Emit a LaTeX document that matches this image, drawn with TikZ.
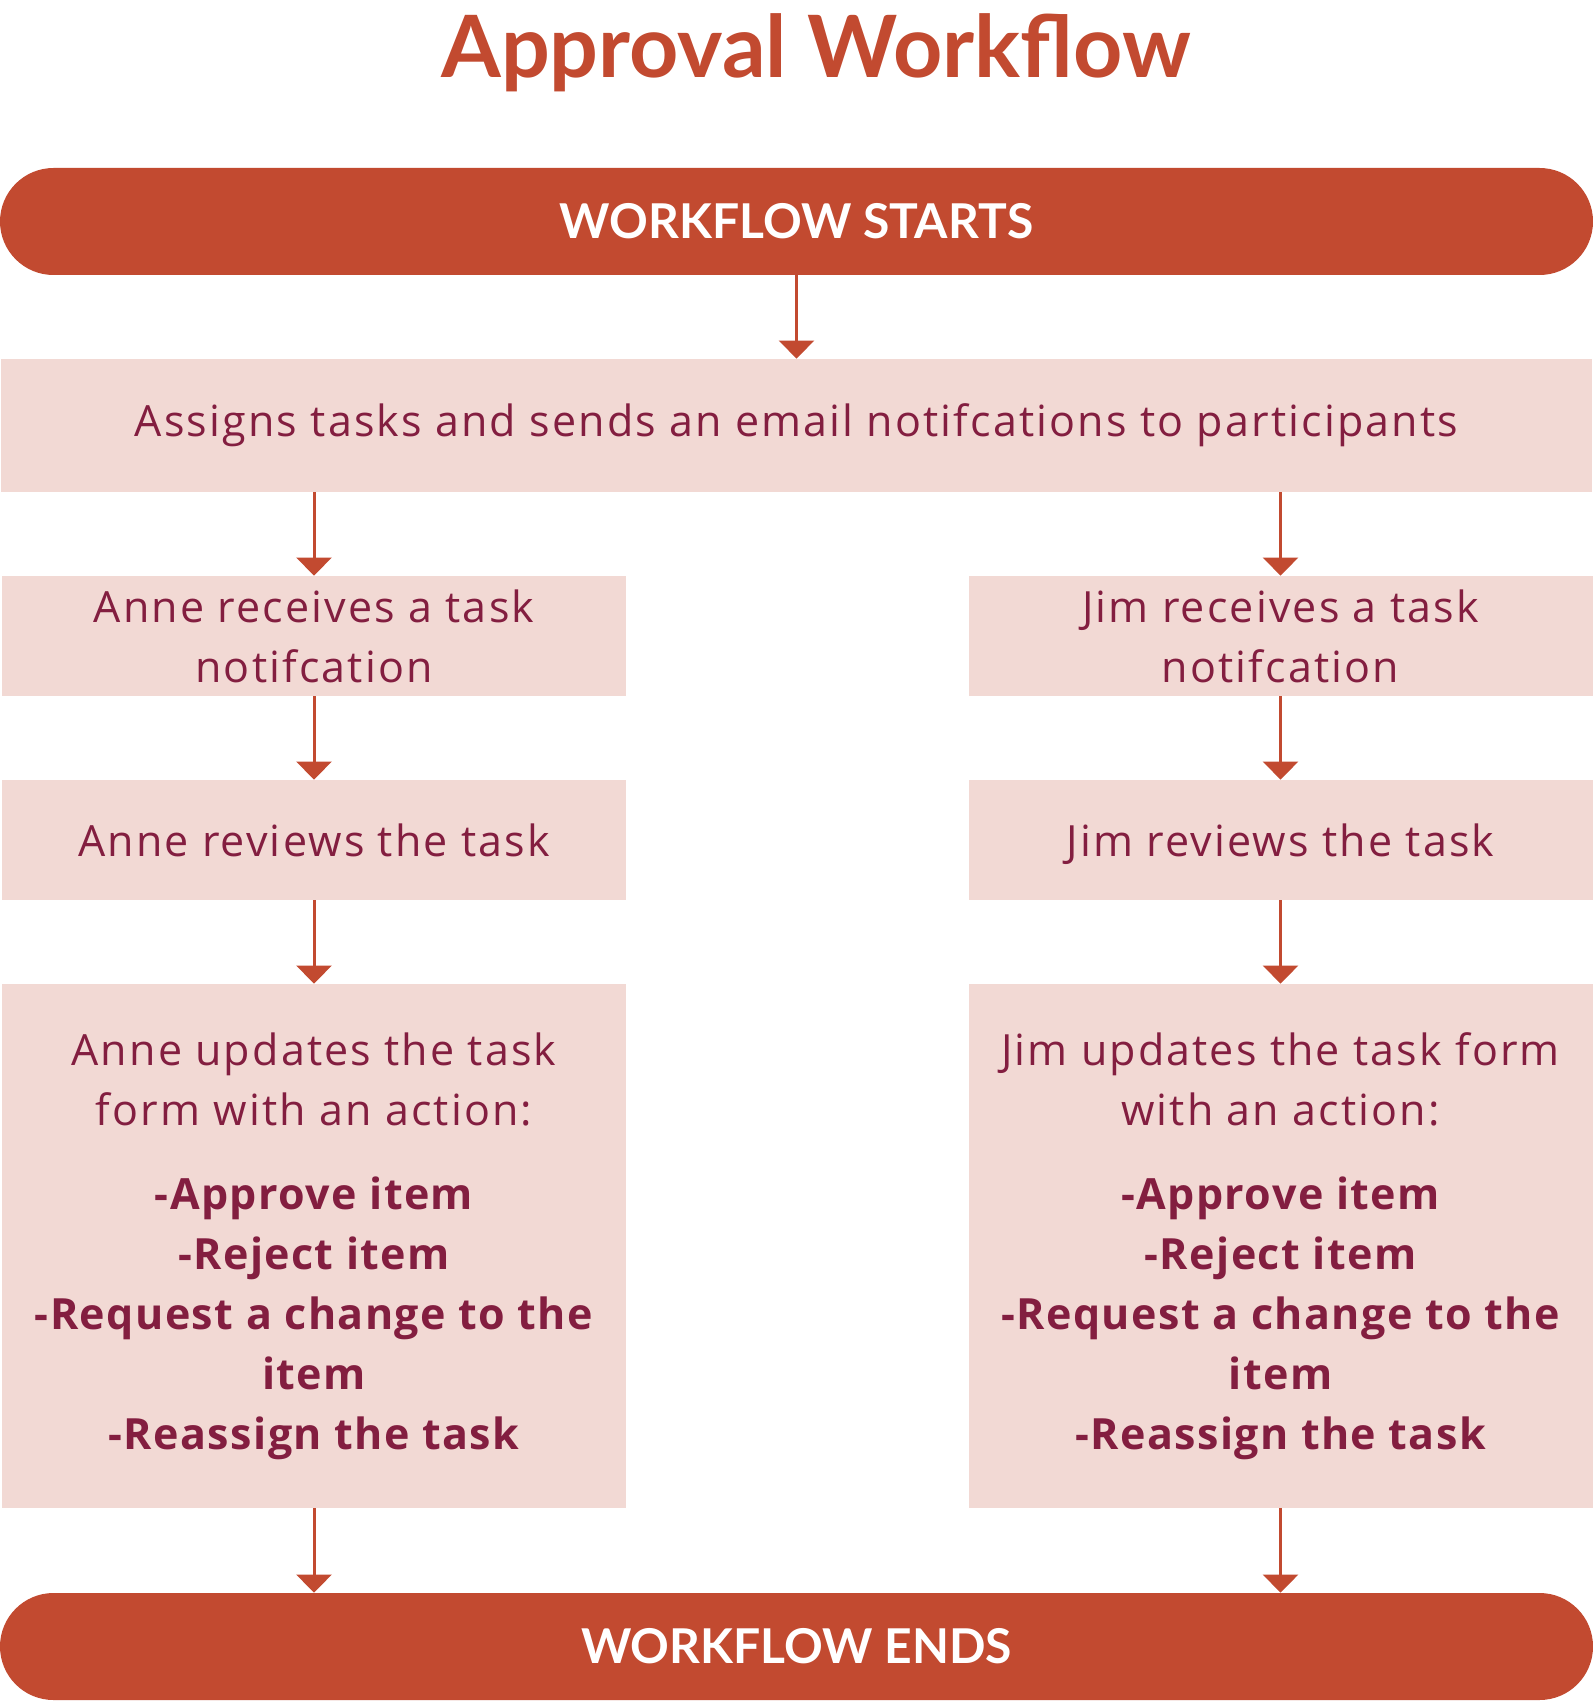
\documentclass[tikz,border=0pt]{standalone}
\usepackage{fontspec}
\setmainfont{Lato}
\newfontfamily\bodyfont[LetterSpace=5, BoldFeatures={LetterSpace=3.3}]{Open Sans}
\usetikzlibrary{arrows.meta}
\definecolor{accent}{HTML}{C24A30}
\definecolor{boxfill}{HTML}{F2D9D4}
\definecolor{txt}{HTML}{831E40}
\tikzset{
  pill/.style={fill=accent, rounded corners=26.75pt, minimum width=796.5pt, minimum height=53.5pt, inner sep=0pt, text=white, font=\fontsize{24}{28}\selectfont\bfseries},
  stepbox/.style={fill=boxfill, inner sep=0pt, text=txt, align=center, font=\bodyfont\fontsize{21.5}{30}\selectfont},
  colbox/.style={stepbox, minimum width=312pt},
  arr/.style={draw=accent, line width=1.5pt, -{Triangle[width=17.5pt,length=9pt]}},
  titlestyle/.style={text=accent, font=\fontsize{43}{50}\selectfont\bfseries, inner sep=0pt}
}
\begin{document}
\begin{tikzpicture}[x=0.5pt,y=-0.5pt]
\path[use as bounding box] (0,0) rectangle (1593,1701);
\node[titlestyle, anchor=base] (title) at (816,78) {Approval Workflow};
\node[pill] (start) at (796.5,221.5) {WORKFLOW STARTS};
\node[stepbox, minimum width=795.5pt, minimum height=66.5pt] (assign) at (796.5,425.5) {Assigns tasks and sends an email notifcations to participants};
\node[colbox, minimum height=60pt] (lrecv) at (314,636) {Anne receives a task\\notifcation};
\node[colbox, minimum height=60pt] (rrecv) at (1280.5,636) {Jim receives a task\\notifcation};
\node[colbox, minimum height=60pt, text depth=0pt] (lrev) at (314,840) {Anne reviews the task};
\node[colbox, minimum height=60pt, text depth=0pt] (rrev) at (1280.5,840) {Jim reviews the task};
\node[colbox, minimum height=262pt] (lupd) at (314,1246) {Anne updates the task\\form with an action:\\[12pt]\bfseries -Approve item\\\bfseries -Reject item\\\bfseries -Request a change to the\\\bfseries item\\\bfseries -Reassign the task};
\node[colbox, minimum height=262pt] (rupd) at (1280.5,1246) {Jim updates the task form\\with an action:\\[12pt]\bfseries -Approve item\\\bfseries -Reject item\\\bfseries -Request a change to the\\\bfseries item\\\bfseries -Reassign the task};
\node[pill] (end) at (796.5,1646.5) {WORKFLOW ENDS};
\draw[arr] (start.south) -- (assign.north);
\draw[arr] (assign.south -| lrecv.north) -- (lrecv.north);
\draw[arr] (assign.south -| rrecv.north) -- (rrecv.north);
\draw[arr] (lrecv) -- (lrev);
\draw[arr] (rrecv) -- (rrev);
\draw[arr] (lrev) -- (lupd);
\draw[arr] (rrev) -- (rupd);
\draw[arr] (lupd.south) -- (end.north -| lupd.south);
\draw[arr] (rupd.south) -- (end.north -| rupd.south);
\end{tikzpicture}
\end{document}
